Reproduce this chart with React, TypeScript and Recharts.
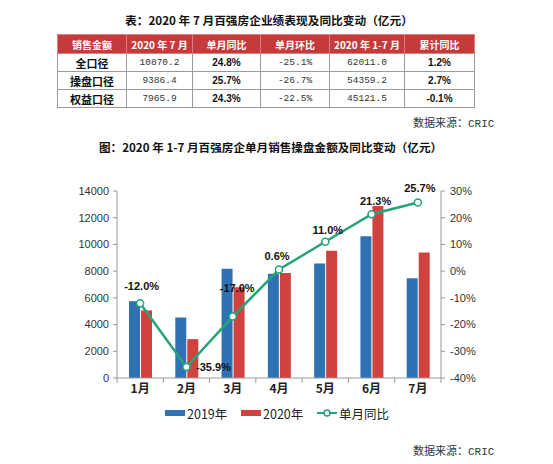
import React from 'react';
import { ComposedChart, Bar, Line, XAxis, YAxis, Legend, LabelList } from 'recharts';

const months = ['1月', '2月', '3月', '4月', '5月', '6月', '7月'];
const sales2019 = [5750, 4530, 8180, 7810, 8580, 10620, 7470];
const sales2020 = [5060, 2910, 6790, 7860, 9520, 12880, 9390];
const yoy = [-12.0, -35.9, -17.0, 0.6, 11.0, 21.3, 25.7];
const leftTicks = [0, 2000, 4000, 6000, 8000, 10000, 12000, 14000];
const rightTicks = [-40, -30, -20, -10, 0, 10, 20, 30];

const tableHeaders = ['销售金额', '2020 年 7 月', '单月同比', '单月环比', '2020 年 1-7 月', '累计同比'];
const tableRowNames = ['全口径', '操盘口径', '权益口径'];
const julyAmount = ['10870.2', '9386.4', '7965.9'];
const julyYoY = ['24.8%', '25.7%', '24.3%'];
const julyMoM = ['-25.1%', '-26.7%', '-22.5%'];
const ytdAmount = ['62011.0', '54359.2', '45121.5'];
const ytdYoY = ['1.2%', '2.7%', '-0.1%'];

const data = months.map((m, i) => ({ month: m, s2019: sales2019[i], s2020: sales2020[i], yoy: yoy[i] }));

const BLUE = '#2f72b3';
const RED = '#d1423f';
const GREEN = '#25a37b';

// label placement tweaks (layout only)
const labelShift = [
  [1.5, -17], [27, 0], [4.5, -29], [-2, -14], [2.5, -12], [4, -13], [2, -14],
];

const CJK = '"Noto Sans CJK SC", "Liberation Sans", sans-serif';
const SANS = '"Liberation Sans", Arial, "Noto Sans CJK SC", sans-serif';
const MONO = '"Liberation Mono", "DejaVu Sans Mono", monospace';

const CHART_W = 553;
const PLOT_L = 117;
const PLOT_R = 441;
const BAND = (PLOT_R - PLOT_L) / months.length;

const XTick = (props: any) => {
  const { x, y, payload, index } = props;
  return (
    <g>
      <line x1={x - BAND / 2} x2={x - BAND / 2} y1={y - 8} y2={y - 3} stroke="#999" />
      {index === months.length - 1 && (
        <line x1={x + BAND / 2} x2={x + BAND / 2} y1={y - 8} y2={y - 3} stroke="#999" />
      )}
      <text x={x} y={y + 1} textAnchor="middle" dominantBaseline="central" fontFamily={CJK} fontWeight={700} fontSize={12} fill="#222">
        {payload.value}
      </text>
    </g>
  );
};

const YoyLabel = (props: any) => {
  const { x, y, value, index } = props;
  const [dx, dy] = labelShift[index] || [0, -12];
  return (
    <text x={x + dx} y={y + dy} textAnchor="middle" dominantBaseline="central" fontFamily={SANS} fontWeight={700} fontSize={11} fill="#111">
      {`${Number(value).toFixed(1)}%`}
    </text>
  );
};

const LegendContent = () => (
  <div style={{ height: 16, display: 'flex', justifyContent: 'flex-start', alignItems: 'center', fontFamily: CJK, fontSize: 12.5, color: '#222', whiteSpace: 'nowrap' }}>
    <div style={{ width: 165, flexShrink: 0 }} />
    <svg width={20} height={16} style={{ flexShrink: 0 }}><rect x={0} y={5} width={20} height={6} fill={BLUE} /></svg>
    <span style={{ marginLeft: 2, width: 54, flexShrink: 0 }}>2019年</span>
    <svg width={20} height={16} style={{ flexShrink: 0 }}><rect x={0} y={5} width={20} height={6} fill={RED} /></svg>
    <span style={{ marginLeft: 2, width: 54, flexShrink: 0 }}>2020年</span>
    <svg width={20} height={16} style={{ flexShrink: 0 }}>
      <line x1={0} x2={20} y1={8} y2={8} stroke={GREEN} strokeWidth={2} />
      <circle cx={10} cy={8} r={3} fill="#fff" stroke={GREEN} strokeWidth={1.5} />
    </svg>
    <span style={{ marginLeft: 2 }}>单月同比</span>
  </div>
);

const cellBase: React.CSSProperties = {
  border: '1px solid #9a9a9a',
  textAlign: 'center',
  padding: 0,
  whiteSpace: 'nowrap',
};

const colWidths = [69, 66, 68, 69, 75, 70];

export default function App() {
  return (
    <div style={{ position: 'absolute', left: 0, top: 0, width: 553, height: 464, background: '#fff', overflow: 'hidden' }}>
      <div style={{ position: 'absolute', left: 125, top: 11, fontFamily: CJK, fontWeight: 700, fontSize: 11.7, color: '#111', whiteSpace: 'nowrap', lineHeight: '18px' }}>
        表：2020 年 7 月百强房企业绩表现及同比变动（亿元）
      </div>
      <table style={{ position: 'absolute', left: 57, top: 34, borderCollapse: 'collapse', tableLayout: 'fixed', width: 417 }}>
        <colgroup>
          {colWidths.map((w, i) => <col key={i} style={{ width: w }} />)}
        </colgroup>
        <thead>
          <tr style={{ height: 19, background: '#c63a3b' }}>
            {tableHeaders.map((h, i) => (
              <th key={i} style={{ ...cellBase, border: '1px solid #d98080', color: '#fff', fontFamily: CJK, fontWeight: 700, fontSize: 10 }}>{h}</th>
            ))}
          </tr>
        </thead>
        <tbody>
          {tableRowNames.map((name, r) => (
            <tr key={r} style={{ height: 18 }}>
              <td style={{ ...cellBase, fontFamily: CJK, fontWeight: 700, fontSize: 11, color: '#111' }}>{name}</td>
              <td style={{ ...cellBase, fontFamily: MONO, fontSize: 9.5, color: '#333' }}>{julyAmount[r]}</td>
              <td style={{ ...cellBase, fontFamily: SANS, fontWeight: 700, fontSize: 10, color: '#111' }}>{julyYoY[r]}</td>
              <td style={{ ...cellBase, fontFamily: MONO, fontSize: 9.5, color: '#333' }}>{julyMoM[r]}</td>
              <td style={{ ...cellBase, fontFamily: MONO, fontSize: 9.5, color: '#333' }}>{ytdAmount[r]}</td>
              <td style={{ ...cellBase, fontFamily: SANS, fontWeight: 700, fontSize: 10, color: '#111' }}>{ytdYoY[r]}</td>
            </tr>
          ))}
        </tbody>
      </table>
      <div style={{ position: 'absolute', left: 413, top: 114, fontFamily: CJK, fontSize: 11, color: '#333', whiteSpace: 'nowrap', lineHeight: '16px' }}>
        数据来源：<span style={{ fontFamily: MONO }}>CRIC</span>
      </div>
      <div style={{ position: 'absolute', left: 99, top: 138, fontFamily: CJK, fontWeight: 700, fontSize: 11.6, color: '#111', whiteSpace: 'nowrap', lineHeight: '18px' }}>
        图：2020 年 1-7 月百强房企单月销售操盘金额及同比变动（亿元）
      </div>
      <div style={{ position: 'absolute', left: 0, top: 0 }}>
        <ComposedChart
          width={CHART_W}
          height={464}
          data={data}
          margin={{ top: 191, right: 62, bottom: 43, left: 57 }}
          barSize={11}
          barGap={1}
        >
          <XAxis
            dataKey="month"
            axisLine={{ stroke: '#999' }}
            tickLine={false}
            tick={<XTick />}
            height={27}
            interval={0}
          />
          <YAxis
            yAxisId="left"
            width={60}
            domain={[0, 14000]}
            ticks={leftTicks}
            axisLine={{ stroke: '#999' }}
            tickLine={{ stroke: '#999' }}
            tickSize={4}
            tickMargin={4}
            tick={{ fontFamily: SANS, fontSize: 11, fill: '#333' }}
            interval={0}
          />
          <YAxis
            yAxisId="right"
            orientation="right"
            width={50}
            domain={[-40, 30]}
            ticks={rightTicks}
            axisLine={{ stroke: '#999' }}
            tickLine={{ stroke: '#999' }}
            tickSize={4}
            tickMargin={5}
            tickFormatter={(v: number) => `${v}%`}
            tick={{ fontFamily: SANS, fontSize: 11, fill: '#333' }}
            interval={0}
          />
          <Legend verticalAlign="bottom" content={<LegendContent />} wrapperStyle={{ left: 0, width: 553, bottom: 43 }} />
          <Bar yAxisId="left" dataKey="s2019" name="2019年" fill={BLUE} isAnimationActive={false} />
          <Bar yAxisId="left" dataKey="s2020" name="2020年" fill={RED} isAnimationActive={false} />
          <Line
            yAxisId="right"
            dataKey="yoy"
            name="单月同比"
            stroke={GREEN}
            strokeWidth={2.5}
            dot={{ r: 3.5, fill: '#fff', stroke: GREEN, strokeWidth: 1.5 }}
            activeDot={false}
            isAnimationActive={false}
          >
            <LabelList dataKey="yoy" content={<YoyLabel />} />
          </Line>
        </ComposedChart>
      </div>
      <div style={{ position: 'absolute', left: 413, top: 442, fontFamily: CJK, fontSize: 11, color: '#333', whiteSpace: 'nowrap', lineHeight: '16px' }}>
        数据来源：<span style={{ fontFamily: MONO }}>CRIC</span>
      </div>
    </div>
  );
}
